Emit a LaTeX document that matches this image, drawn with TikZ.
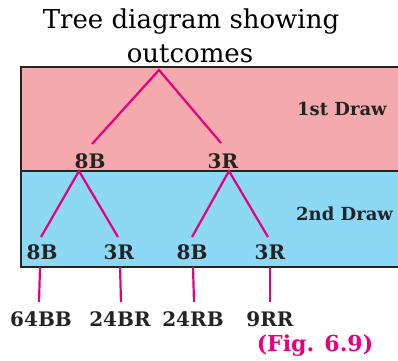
\documentclass[tikz,border=0pt]{standalone}
\usepackage{fontspec}
\setmainfont{DejaVu Serif}
\definecolor{drawone}{HTML}{F4A9AC}
\definecolor{drawtwo}{HTML}{8DD8F5}
\definecolor{branchpink}{HTML}{E6007E}
\definecolor{edgegray}{HTML}{232323}
\tikzset{
  branch/.style={branchpink, line width=2.2pt},
  ball/.style={font=\fontsize{20}{22}\selectfont\bfseries, text=edgegray, anchor=base, inner sep=0pt},
  drawlabel/.style={font=\fontsize{18}{20}\selectfont\bfseries, text=edgegray, anchor=base west, inner sep=0pt}
}
\begin{document}
\begin{tikzpicture}[x=1pt,y=1pt]
% fix the page size
    \useasboundingbox (0,0) rectangle (398,360);
    \clip (0,0) rectangle (398,360);

% title
    \node[anchor=base, inner sep=0pt, font=\fontsize{26}{28}\selectfont] (title1) at (191,332) {Tree diagram showing};
    \node[anchor=base, inner sep=0pt, font=\fontsize{26}{28}\selectfont] (title2) at (190,298) {outcomes};

% coloured bands for the two draws
    \draw[fill=drawone, draw=edgegray, line width=2.2pt] (21,293) rectangle (412,189);
    \draw[fill=drawtwo, draw=edgegray, line width=2.2pt] (21,189) rectangle (412,93);
    \node[drawlabel] (first) at (297,245) {1st Draw};
    \node[drawlabel] (second) at (296,140) {2nd Draw};

% first draw
    \coordinate (root) at (159,290);
    \node[ball] (b) at (90,192) {8B};
    \node[ball] (r) at (223,192) {3R};
    \draw[branch] ([shift={(2,24)}]b.base) -- (root) -- ([shift={(-2,25)}]r.base);

% second draw
    \node[ball] (bb) at (42,101) {8B};
    \node[ball] (br) at (119,101) {3R};
    \node[ball] (rb) at (192,101) {8B};
    \node[ball] (rr) at (270,101) {3R};
    \draw[branch] ([shift={(-1,22)}]bb.base) -- ([shift={(-11,-3)}]b.base) -- ([shift={(-1,22)}]br.base);
    \draw[branch] ([shift={(0,22)}]rb.base) -- ([shift={(6,-3)}]r.base) -- ([shift={(-2,22)}]rr.base);

% outcomes
    \node[ball] (obb) at (41,34) {64BB};
    \node[ball] (obr) at (120,34) {24BR};
    \node[ball] (orb) at (193,34) {24RB};
    \node[ball] (orr) at (270,34) {9RR};
    \foreach \n/\o/\dx in {bb/obb/-2, br/obr/1, rb/orb/1, rr/orr/0}
        \draw[branch] ([shift={(\dx,-8)}]\n.base) -- ([shift={(\dx,24)}]\o.base);

% figure number
    \node[anchor=base, inner sep=0pt, text=branchpink, font=\fontsize{22}{24}\selectfont\bfseries] (fig) at (315,9) {(Fig. 6.9)};
\end{tikzpicture}
\end{document}
